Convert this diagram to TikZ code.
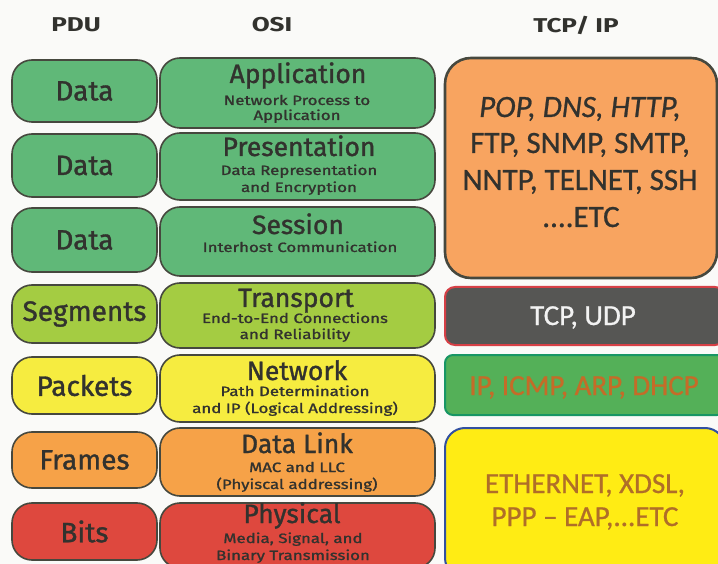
\documentclass[tikz,border=0pt]{standalone}
\usepackage{graphicx}
\usepackage{fontspec}
\setmainfont{Fira Sans}
\newfontfamily\semi[FakeBold=1.2]{Fira Sans}
\newfontfamily\calib[FakeBold=0.8]{Carlito}
\definecolor{bgc}{RGB}{250,250,248}
\definecolor{edgec}{RGB}{70,72,62}
\definecolor{txtc}{RGB}{50,50,46}
\definecolor{greenc}{RGB}{96,184,120}
\definecolor{limec}{RGB}{164,204,66}
\definecolor{yellc}{RGB}{246,236,64}
\definecolor{orc}{RGB}{246,162,72}
\definecolor{redc}{RGB}{222,72,62}
\definecolor{orbig}{RGB}{248,164,96}
\definecolor{grayc}{RGB}{86,86,84}
\definecolor{redline}{RGB}{214,64,70}
\definecolor{ipgreen}{RGB}{84,176,88}
\definecolor{tealc}{RGB}{24,150,100}
\definecolor{iptxt}{RGB}{196,108,40}
\definecolor{ybig}{RGB}{255,236,20}
\definecolor{bluec}{RGB}{50,80,160}
\definecolor{ytxt}{RGB}{176,110,40}
\tikzset{
  pdubox/.style={draw=edgec, line width=1.6pt, rounded corners=20pt, minimum width=145pt, text=txtc, font=\semi\fontsize{28}{28}\selectfont},
  osibox/.style={draw=edgec, line width=1.6pt, rounded corners=20pt, minimum width=275pt},
  ttl/.style={text=txtc, font=\semi\fontsize{26.5}{27}\selectfont, inner sep=0pt, anchor=base},
  sub/.style={text=txtc, font=\semi\fontsize{13.5}{14}\selectfont, inner sep=0pt, anchor=base},
  hdr/.style={font=\bfseries\fontsize{20}{20}\selectfont, text=txtc},
  tcpbox/.style={line width=2pt},
  tcptxt/.style={font=\calib\fontsize{29}{29}\selectfont, inner sep=0pt, anchor=base}
}
\newcommand{\wideit}[1]{\scalebox{1.25}[1]{#1}}
\begin{document}
\begin{tikzpicture}[x=1pt,y=-1pt]
\fill[bgc] (0,0) rectangle (718,564);
\useasboundingbox (0,0) rectangle (718,564);
\clip (0,0) rectangle (718,564);
% headers
\node[hdr] (hpdu) at (76,25) {\scalebox{1.3}[1]{PDU}};
\node[hdr] (hosi) at (272,25) {\scalebox{1.3}[1]{OSI}};
\node[hdr] (htcp) at (576,25) {\scalebox{1.3}[1]{TCP/ IP}};
% PDU column
\node[pdubox, fill=greenc, minimum height=62pt] (d1) at (84.5,91) {Data};
\node[pdubox, fill=greenc, minimum height=63pt] (d2) at (84.5,165.5) {Data};
\node[pdubox, fill=greenc, minimum height=64pt] (d3) at (84.5,240) {Data};
\node[pdubox, fill=limec, minimum height=58pt] (seg) at (84.5,314) {Segments};
\node[pdubox, fill=yellc, minimum height=57pt] (pkt) at (84.5,385.5) {Packets};
\node[pdubox, fill=orc, minimum height=56pt] (frm) at (84.5,460) {Frames};
\node[pdubox, fill=redc, minimum height=57pt] (bits) at (84.5,531.5) {Bits};
% OSI column boxes
\node[osibox, fill=greenc, minimum height=70pt] (app) at (297.5,93) {};
\node[osibox, fill=greenc, minimum height=67pt] (pres) at (297.5,166.5) {};
\node[osibox, fill=greenc, minimum height=69pt] (sess) at (297.5,241.5) {};
\node[osibox, fill=limec, minimum height=65pt] (trans) at (297.5,315.5) {};
\node[osibox, fill=yellc, minimum height=67pt] (net) at (297.5,388.5) {};
\node[osibox, fill=orc, minimum height=68pt] (dl) at (297.5,462) {};
\node[osibox, fill=redc, minimum height=65pt] (phys) at (297.5,535.5) {};
% OSI texts (positions are baselines)
\node[ttl] (appT) at (298,83) {Application};
\node[sub] (appS1) at (297,105) {\wideit{Network Process to}};
\node[sub] (appS2) at (297,120) {\wideit{Application}};
\node[ttl] (presT) at (299,156) {Presentation};
\node[sub] (presS1) at (299,175) {\wideit{Data Representation}};
\node[sub] (presS2) at (299,192) {\wideit{and Encryption}};
\node[ttl] (sessT) at (298,234) {Session};
\node[sub] (sessS1) at (300,252) {\wideit{Interhost Communication}};
\node[ttl] (transT) at (296,307) {Transport};
\node[sub] (transS1) at (295,323) {\wideit{End-to-End Connections}};
\node[sub] (transS2) at (295,339) {\wideit{and Reliability}};
\node[ttl] (netT) at (297,380) {Network};
\node[sub] (netS1) at (295,396) {\wideit{Path Determination}};
\node[sub] (netS2) at (295,413) {\wideit{and IP (Logical Addressing)}};
\node[ttl] (dlT) at (297,453) {Data Link};
\node[sub] (dlS1) at (297,472) {\wideit{MAC and LLC}};
\node[sub] (dlS2) at (297,489) {\wideit{(Phyiscal addressing)}};
\node[ttl] (physT) at (292,523) {Physical};
\node[sub] (physS1) at (293,543) {\wideit{Media, Signal, and}};
\node[sub] (physS2) at (293,560) {\wideit{Binary Transmission}};
% TCP/IP column
\node[tcpbox, draw=edgec, line width=2.6pt, fill=orbig, rounded corners=26pt, minimum width=272pt, minimum height=220pt] (appl) at (581,168) {};
\node[tcptxt, text=txtc, font=\calib\fontsize{31}{31}\selectfont] (applT1) at (580,117) {\itshape POP, DNS, HTTP,};
\node[tcptxt, text=txtc, font=\calib\fontsize{31}{31}\selectfont] (applT2) at (580,153) {FTP, SNMP, SMTP,};
\node[tcptxt, text=txtc, font=\calib\fontsize{31}{31}\selectfont] (applT3) at (580,190) {NNTP, TELNET, SSH};
\node[tcptxt, text=txtc, font=\calib\fontsize{31}{31}\selectfont] (applT4) at (581,227) {....ETC};
\node[tcpbox, draw=redline, fill=grayc, rounded corners=10pt, minimum width=280pt, minimum height=58pt] (tcp) at (585,316) {};
\node[tcptxt, text=white!90!gray] (tcpT) at (583,325) {TCP, UDP};
\node[tcpbox, draw=tealc, fill=ipgreen, rounded corners=8pt, minimum width=280pt, minimum height=60pt] (ip) at (585,385) {};
\node[tcptxt, text=iptxt] (ipT) at (584,395) {IP, ICMP, ARP, DHCP};
\node[tcpbox, draw=bluec, fill=ybig, rounded corners=20pt, minimum width=280pt, minimum height=150pt, anchor=north] (link) at (585,427) {};
\node[tcptxt, text=ytxt] (linkT1) at (585,493) {ETHERNET, XDSL,};
\node[tcptxt, text=ytxt] (linkT2) at (585,526) {PPP – EAP,...ETC};
\end{tikzpicture}
\end{document}
